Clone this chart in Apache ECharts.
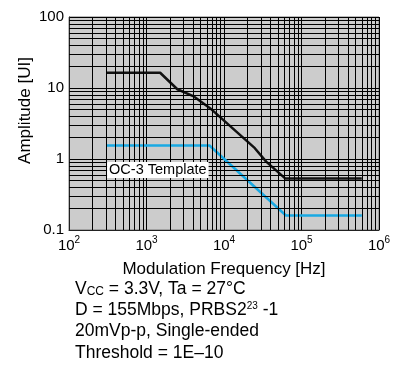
<!DOCTYPE html>
<html>
<head>
<meta charset="utf-8">
<script src="https://cdn.jsdelivr.net/npm/echarts@6/dist/echarts.min.js"></script>
<style>
  html, body { margin: 0; padding: 0; background: #fff; }
  #chart { width: 403px; height: 366px; }
</style>
</head>
<body>
<div id="chart"></div>
<script>
// measured jitter tolerance (black) and OC-3 mask (blue), [Hz, UI]
const measured = [[300, 16.4], [1500, 16.4], [2500, 9.6], [4000, 7.7], [6600, 5.2],
  [25000, 1.42], [35000, 0.92], [62000, 0.53], [600000, 0.53]];
const oc3Template = [[300, 1.55], [6500, 1.55], [63000, 0.16], [600000, 0.16]];

const xTickExp = ["2", "3", "4", "5", "6"];
const yTickLabels = ["0.1", "1", "10", "100"];
const notes = [
  "V{s|CC} = 3.3V, Ta = 27°C",
  "D = 155Mbps, PRBS2{sup|23} -1",
  "20mVp-p, Single-ended",
  "Threshold = 1E\u201310"
];

const FONT = "Liberation Sans, Arial, sans-serif";

// minor log grid lines 2..9 in every decade
const vLines = [];
for (let d = 2; d < 6; d++) {
  for (let k = 2; k <= 9; k++) vLines.push({ xAxis: k * Math.pow(10, d) });
}
const hLines = [];
for (let d = -1; d < 2; d++) {
  for (let k = 2; k <= 9; k++) hLines.push({ yAxis: k * Math.pow(10, d) });
}

const chart = echarts.init(document.getElementById("chart"), null, { renderer: "canvas" });

const option = {
  animation: false,
  textStyle: { fontFamily: FONT },
  grid: {
    left: 69, top: 17, width: 310, height: 213,
    show: true, backgroundColor: "#cccccc", borderColor: "#777", borderWidth: 1
  },
  xAxis: {
    type: "log", logBase: 10, min: 100, max: 1e6,
    name: "Modulation Frequency [Hz]", nameLocation: "middle", nameGap: 31,
    nameTextStyle: { fontSize: 17, color: "#000", fontFamily: FONT },
    axisLine: { show: true, lineStyle: { color: "#222", width: 1 } },
    axisTick: { show: false },
    splitLine: { show: true, lineStyle: { color: "#000", width: 1 } },
    axisLabel: {
      margin: 5, showMinLabel: true, showMaxLabel: true,
      formatter: (v) => "{b|10}{s|" + xTickExp[Math.round(Math.log10(v)) - 2] + "}",
      rich: {
        b: { fontSize: 15, color: "#000", fontFamily: FONT, verticalAlign: "bottom", lineHeight: 18 },
        s: { fontSize: 10, color: "#000", fontFamily: FONT, verticalAlign: "top", lineHeight: 12 }
      }
    }
  },
  yAxis: {
    type: "log", logBase: 10, min: 0.1, max: 100,
    name: "Amplitude [UI]", nameLocation: "middle", nameGap: 35, nameRotate: 90,
    nameMoveOverlap: false,
    nameTextStyle: { fontSize: 17, color: "#000", fontFamily: FONT, padding: [0, 0, 0, 26] },
    axisLine: { show: true, lineStyle: { color: "#222", width: 1 } },
    axisTick: { show: false },
    splitLine: { show: true, lineStyle: { color: "#000", width: 1 } },
    axisLabel: {
      margin: 5, fontSize: 15, color: "#000", fontFamily: FONT,
      showMinLabel: true, showMaxLabel: true,
      formatter: (v) => yTickLabels[Math.round(Math.log10(v)) + 1]
    }
  },
  series: [
    {
      name: "grid", type: "line", data: [], silent: true, z: 1,
      markLine: {
        silent: true, symbol: ["none", "none"], animation: false,
        label: { show: false },
        lineStyle: { color: "#000", width: 1, type: "solid" },
        emphasis: { disabled: true },
        data: vLines.concat(hLines)
      }
    },
    {
      name: "OC-3 Template", type: "line", data: oc3Template, z: 3,
      symbol: "none", lineStyle: { color: "#19a9e3", width: 2.5 },
      markPoint: {
        symbol: "rect", symbolSize: 0, silent: true,
        label: {
          show: true, position: "right", distance: 0, formatter: "OC-3 Template",
          backgroundColor: "#fff", color: "#000", fontSize: 14.5, fontFamily: FONT,
          padding: [1, 2, 0, 2]
        },
        data: [{ coord: [310, 0.7] }]
      }
    },
    {
      name: "Measured", type: "line", data: measured, z: 3,
      symbol: "none", lineStyle: { color: "#111", width: 2.5 }
    }
  ],
  graphic: notes.map((t, i) => ({
    type: "text", left: 75, top: 280 + i * 21.3,
    style: {
      text: t, fill: "#000", font: "17.5px " + FONT,
      rich: {
        s: { fontSize: 12, fontFamily: FONT, fill: "#000", verticalAlign: "bottom", lineHeight: 16 },
        sup: { fontSize: 10, fontFamily: FONT, fill: "#000", verticalAlign: "top", lineHeight: 12 }
      }
    }
  }))
};

chart.setOption(option);
</script>
</body>
</html>
